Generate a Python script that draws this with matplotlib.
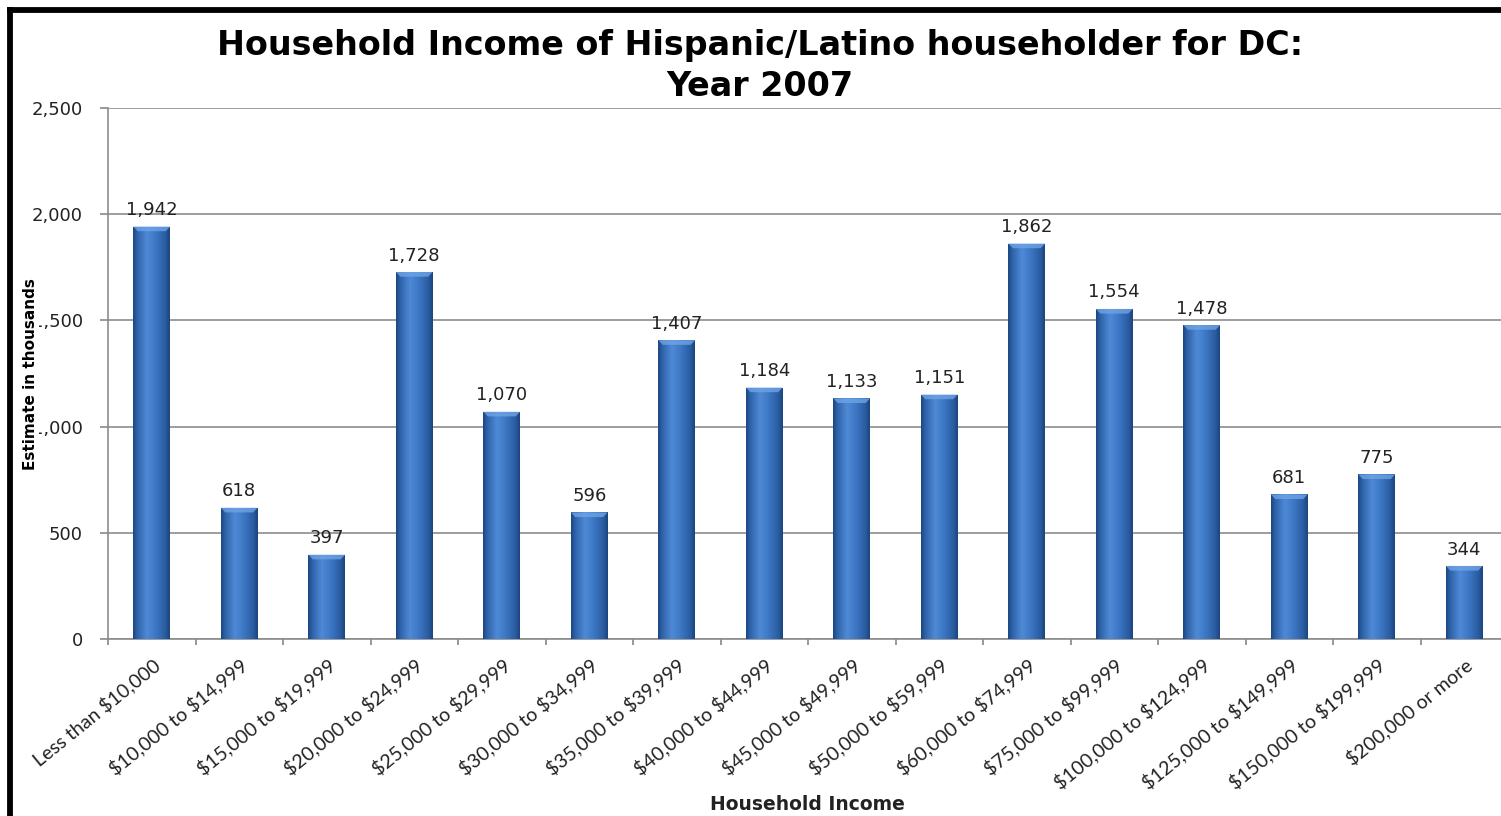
import numpy as np
import matplotlib.pyplot as plt
from matplotlib.colors import LinearSegmentedColormap
from matplotlib.lines import Line2D

plt.rcParams['text.parse_math'] = False

categories = ['Less than $10,000', '$10,000 to $14,999', '$15,000 to $19,999',
              '$20,000 to $24,999', '$25,000 to $29,999', '$30,000 to $34,999',
              '$35,000 to $39,999', '$40,000 to $44,999', '$45,000 to $49,999',
              '$50,000 to $59,999', '$60,000 to $74,999', '$75,000 to $99,999',
              '$100,000 to $124,999', '$125,000 to $149,999', '$150,000 to $199,999',
              '$200,000 or more']
estimates = [1942, 618, 397, 1728, 1070, 596, 1407, 1184, 1133, 1151,
             1862, 1554, 1478, 681, 775, 344]
yticks = [0, 500, 1000, 1500, 2000, 2500]

fig = plt.figure(figsize=(15.01, 8.16), dpi=100)
ax = fig.add_axes([108 / 1501, 1 - 639 / 816, 1400 / 1501, 531 / 816])

x = np.arange(len(categories))
bars = ax.bar(x, estimates, width=0.42, color='none', edgecolor='none', zorder=3)

# horizontal shading on each bar, excel 2007 style
shade = LinearSegmentedColormap.from_list('barshade', [
    (0.0, '#1b4580'), (0.12, '#2f64aa'), (0.38, '#4f8ad6'),
    (0.62, '#3d77c4'), (0.88, '#2a5ca0'), (1.0, '#1a437c')])
grad = np.linspace(0, 1, 256).reshape(1, -1)
for b in bars:
    x0, w, h = b.get_x(), b.get_width(), b.get_height()
    im = ax.imshow(grad, cmap=shade, aspect='auto', extent=(x0, x0 + w, 0, h),
                   zorder=3, interpolation='bicubic')
    im.set_clip_path(b)
    # lighter cap on top of the bar
    ax.fill([x0, x0 + w, x0 + w * 0.88, x0 + w * 0.12], [h, h, h - 22, h - 22],
            color='#6fa3e6', alpha=0.8, zorder=4, lw=0)

for xi, v in zip(x, estimates):
    ax.text(xi, v + 35, f'{v:,}', ha='center', va='bottom', fontsize=13,
            family='DejaVu Sans', color='#222222', zorder=5)

ax.set_xlim(-0.5, len(categories) - 0.5)
ax.set_ylim(0, 2500)
ax.set_yticks(yticks)
ax.set_yticklabels([f'{t:,}' for t in yticks], fontsize=13, family='DejaVu Sans', color='#222222')
ax.set_xticks(x)
ax.set_xticklabels(categories, rotation=39, ha='right', rotation_mode='anchor',
                   fontsize=14, family=['Lato', 'DejaVu Sans'], color='#222222')
ax.tick_params(axis='x', which='major', length=0, pad=12)
ax.set_xticks(np.arange(-0.5, len(categories), 1), minor=True)
ax.tick_params(axis='x', which='minor', length=4.5, color='#888888', width=1.2)
ax.tick_params(axis='y', length=6, color='#888888', width=1.2, pad=12)

ax.grid(axis='y', color='#8c8c8c', linewidth=1.2, zorder=0)
ax.set_axisbelow(True)
for s in ['top', 'right']:
    ax.spines[s].set_visible(False)
for s in ['left', 'bottom']:
    ax.spines[s].set_color('#8c8c8c')
    ax.spines[s].set_linewidth(1.2)

fig.text(760 / 1501, 1 - 45 / 816, 'Household Income of Hispanic/Latino householder for DC:',
         ha='center', va='center', fontsize=24, fontweight='bold', family='DejaVu Sans')
fig.text(760 / 1501, 1 - 87 / 816, 'Year 2007', ha='center', va='center',
         fontsize=24, fontweight='bold', family='DejaVu Sans')
fig.text(31 / 1501, 1 - 374 / 816, 'Estimate in thousands', rotation=90, ha='center', va='center',
         fontsize=11, fontweight='bold', zorder=6,
         family=['Liberation Sans Narrow', 'DejaVu Sans Condensed', 'DejaVu Sans'],
         bbox=dict(facecolor='white', edgecolor='none', pad=0.5))
fig.text(807 / 1501, 1 - 804 / 816, 'Household Income', ha='center', va='center',
         fontsize=13.5, fontweight='bold', family='DejaVu Sans', color='#222222')

# frame edges of the chart area
fig.add_artist(Line2D([10 / 1501, 10 / 1501], [0, 1 - 10 / 816], color='black', lw=4.2,
                      solid_capstyle='projecting', transform=fig.transFigure))
fig.add_artist(Line2D([10 / 1501, 1], [1 - 10 / 816, 1 - 10 / 816], color='black', lw=4.2,
                      solid_capstyle='projecting', transform=fig.transFigure))

fig.savefig('out.png', dpi=100)
